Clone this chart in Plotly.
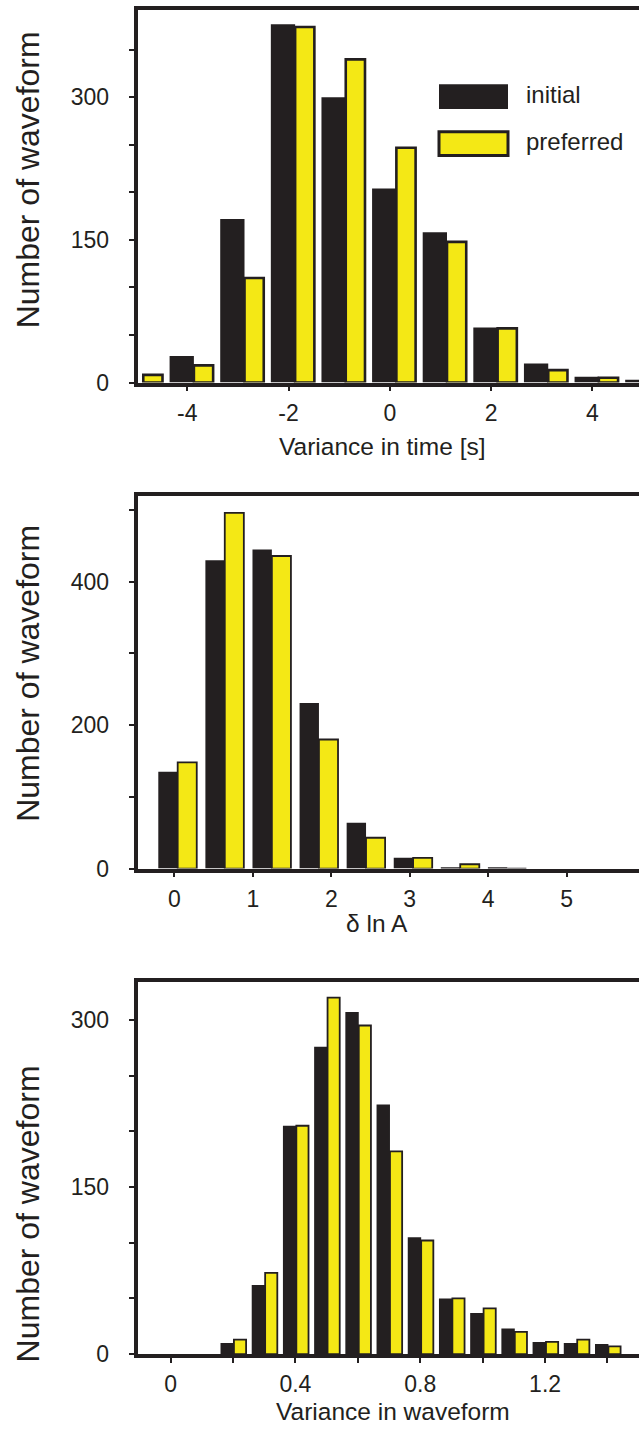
import plotly.graph_objects as go

# ---------------- data ----------------
time_centers = [-5, -4, -3, -2, -1, 0, 1, 2, 3, 4, 5]
time_initial = [0, 28, 172, 377, 300, 204, 158, 58, 20, 6, 3]
time_preferred = [8, 18, 110, 374, 340, 247, 148, 57, 13, 5, 2]

lnA_centers = [0, 0.6, 1.2, 1.8, 2.4, 3.0, 3.6, 4.2]
lnA_initial = [135, 430, 445, 231, 64, 15, 2, 2]
lnA_preferred = [148, 496, 436, 180, 43, 15, 6, 0]

wf_centers = [0.2, 0.3, 0.4, 0.5, 0.6, 0.7, 0.8, 0.9, 1.0, 1.1, 1.2, 1.3, 1.4]
wf_initial = [10, 62, 205, 276, 307, 224, 105, 50, 37, 23, 11, 10, 9]
wf_preferred = [13, 73, 205, 320, 295, 182, 102, 50, 41, 20, 11, 13, 7]

time_ticks = [-4, -2, 0, 2, 4]
time_ticktext = ["-4", "-2", "0", "2", "4"]
lnA_ticks = [0, 1, 2, 3, 4, 5]
lnA_ticktext = ["0", "1", "2", "3", "4", "5"]
wf_ticks = [0, 0.2, 0.4, 0.6, 0.8, 1.0, 1.2, 1.4]
wf_ticktext = ["0", "", "0.4", "", "0.8", "", "1.2", ""]

y1_ticks = [0, 50, 100, 150, 200, 250, 300, 350]
y1_ticktext = ["0", "", "", "150", "", "", "300", ""]
y2_ticks = [0, 100, 200, 300, 400, 500]
y2_ticktext = ["0", "", "200", "", "400", ""]
y3_ticks = [0, 50, 100, 150, 200, 250, 300]
y3_ticktext = ["0", "", "", "150", "", "", "300"]

series_names = ["initial", "preferred"]
x_titles = ["Variance in time [s]", "\u03b4 ln A", "Variance in waveform"]
y_title = "Number of waveform"

# ---------------- style ----------------
BLACK = "#231f20"
YELLOW = "#f4e815"
FONT = "Liberation Sans, Arial, Helvetica, sans-serif"
W, H = 639, 1437

fig = go.Figure()

panels = [
    dict(c=time_centers, a=time_initial, b=time_preferred,
         boff=-0.35, bw=0.48, yoff=0.13, yw=0.38, lw=2.6, ax=""),
    dict(c=lnA_centers, a=lnA_initial, b=lnA_preferred,
         boff=-0.204, bw=0.247, yoff=0.043, yw=0.243, lw=1.8, ax="2"),
    dict(c=wf_centers, a=wf_initial, b=wf_preferred,
         boff=-0.04, bw=0.043, yoff=0.003, yw=0.039, lw=1.8, ax="3"),
]

for p in panels:
    fig.add_trace(go.Bar(
        x=p["c"], y=p["a"], name=series_names[0], offset=p["boff"], width=p["bw"],
        marker=dict(color=BLACK, line=dict(width=0)),
        xaxis="x" + p["ax"], yaxis="y" + p["ax"], showlegend=False))
    fig.add_trace(go.Bar(
        x=p["c"], y=p["b"], name=series_names[1], offset=p["yoff"], width=p["yw"],
        marker=dict(color=YELLOW, line=dict(width=p["lw"], color=BLACK)),
        xaxis="x" + p["ax"], yaxis="y" + p["ax"], showlegend=False))

x_left = 137.5 / W
# pixel positions (top, bottom) of each plot area
rows = [(10, 386), (501, 876.5), (991, 1366.5)]
doms = [[1 - b / H, 1 - t / H] for t, b in rows]

common_axis = dict(showline=True, linewidth=3.5, linecolor=BLACK, ticks="outside",
                   ticklen=5, tickwidth=2, tickcolor=BLACK, showgrid=False,
                   zeroline=False, tickfont=dict(family=FONT, size=23, color=BLACK))

xr = [[-4.984, 4.923], [-0.469, 5.921], [-0.106, 1.501]]
yr = [[0, 392], [0, 519], [0, 334]]
xt = [(time_ticks, time_ticktext), (lnA_ticks, lnA_ticktext), (wf_ticks, wf_ticktext)]
yt = [(y1_ticks, y1_ticktext), (y2_ticks, y2_ticktext), (y3_ticks, y3_ticktext)]

layout = dict(
    width=W, height=H, margin=dict(l=0, r=0, t=0, b=0),
    paper_bgcolor="white", plot_bgcolor="white", barmode="overlay",
    font=dict(family=FONT, color=BLACK), showlegend=False,
)
for i, ax in enumerate(["", "2", "3"]):
    layout["xaxis" + ax] = dict(common_axis, domain=[x_left, 1], range=xr[i],
                                 anchor="y" + ax, mirror=True,
                                 tickmode="array", tickvals=xt[i][0], ticktext=xt[i][1],
                                 ticklabelstandoff=2)
    layout["yaxis" + ax] = dict(common_axis, domain=doms[i], range=yr[i],
                                 anchor="x" + ax,
                                 tickmode="array", tickvals=yt[i][0], ticktext=yt[i][1],
                                 ticklabelstandoff=15)
fig.update_layout(**layout)

# axis titles
ytitle_centers = [182, 680, 1225.5]
xtitle_pos = [(382, 451), (376.7, 932), (392.5, 1424)]
anns = []
for i in range(3):
    anns.append(dict(text=y_title, x=28 / W, y=1 - ytitle_centers[i] / H,
                     xref="paper", yref="paper", textangle=-90, showarrow=False,
                     xanchor="center", yanchor="middle",
                     font=dict(family=FONT, size=32, color=BLACK)))
    xx, yy = xtitle_pos[i]
    anns.append(dict(text=x_titles[i], x=xx / W, y=1 - yy / H,
                     xref="paper", yref="paper", showarrow=False,
                     xanchor="center", yanchor="middle",
                     font=dict(family=FONT, size=24.5, color=BLACK)))

# legend (drawn manually, top panel)
legend_rows = [(85, 110, BLACK, 0), (133, 157, YELLOW, 3)]
shapes = []
for (t, b, col, lw), name in zip(legend_rows, series_names):
    shapes.append(dict(type="rect", xref="paper", yref="paper",
                       x0=439 / W, x1=508 / W, y0=1 - b / H, y1=1 - t / H,
                       fillcolor=col, line=dict(color=BLACK, width=lw)))
    anns.append(dict(text=name, x=524 / W, y=1 - ((t + b) / 2 - 2) / H,
                     xref="paper", yref="paper", showarrow=False,
                     xanchor="left", yanchor="middle",
                     font=dict(family=FONT, size=24, color=BLACK)))

fig.update_layout(annotations=anns, shapes=shapes)

page_fix = ("document.documentElement.style.margin='0';document.body.style.margin='0';"
            "document.body.style.padding='0';document.documentElement.style.overflow='hidden';"
            "document.body.style.overflow='hidden';")
fig.write_html("out.html", post_script=page_fix)
